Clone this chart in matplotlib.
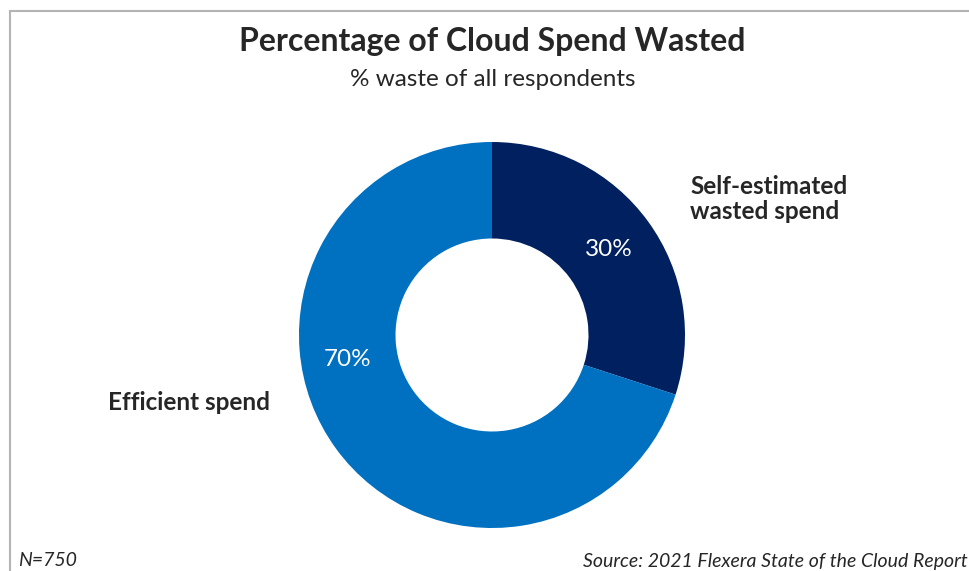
import matplotlib.pyplot as plt
from matplotlib.patches import Rectangle

categorias = ["Self-estimated\nwasted spend", "Efficient spend"]
valores = [30, 70]
colores = ["#002060", "#0070C0"]

W, H = 970, 571
fig = plt.figure(figsize=(W / 100, H / 100), dpi=100)
plt.rcParams['font.family'] = ['Lato', 'DejaVu Sans']

# marco gris
fig.patches.append(Rectangle((10 / W, -0.1), 1.2, 1 - 11 / H + 0.1, transform=fig.transFigure,
                             fill=False, edgecolor="#b4b4b4", linewidth=1.5))

# dona
cx, cy, r = 492, 335, 193
ax = fig.add_axes([(cx - r) / W, (H - cy - r) / H, 2 * r / W, 2 * r / H])
ax.pie(valores, colors=colores, startangle=90, counterclock=False,
       wedgeprops=dict(width=0.5, edgecolor="none"))
ax.set_xlim(-1, 1)
ax.set_ylim(-1, 1)
ax.set_aspect("auto")
ax.axis("off")


def px(x, y):
    return x / W, 1 - y / H


fig.text(*px(492, 42), "Percentage of Cloud Spend Wasted", ha="center", va="center",
         fontsize=23, fontweight="bold", color="#262626")
fig.text(*px(493, 80), "% waste of all respondents", ha="center", va="center",
         fontsize=17.5, color="#262626")

fig.text(*px(609, 250), f"{valores[0]}%", ha="center", va="center", fontsize=17.5, color="white")
fig.text(*px(348, 360), f"{valores[1]}%", ha="center", va="center", fontsize=17.5, color="white")

fig.text(*px(690, 199), categorias[0], ha="left", va="center", fontsize=17.5,
         fontweight="bold", color="#262626", linespacing=1.15)
fig.text(*px(108, 403), categorias[1], ha="left", va="center", fontsize=17.5,
         fontweight="bold", color="#262626")

fig.text(*px(18, 561), "N=750", ha="left", va="center", fontsize=14, style="italic", color="#262626")
fig.text(*px(968, 561), "Source: 2021 Flexera State of the Cloud Report", ha="right", va="center",
         fontsize=14, style="italic", color="#262626")

fig.savefig("out.png", dpi=100)
